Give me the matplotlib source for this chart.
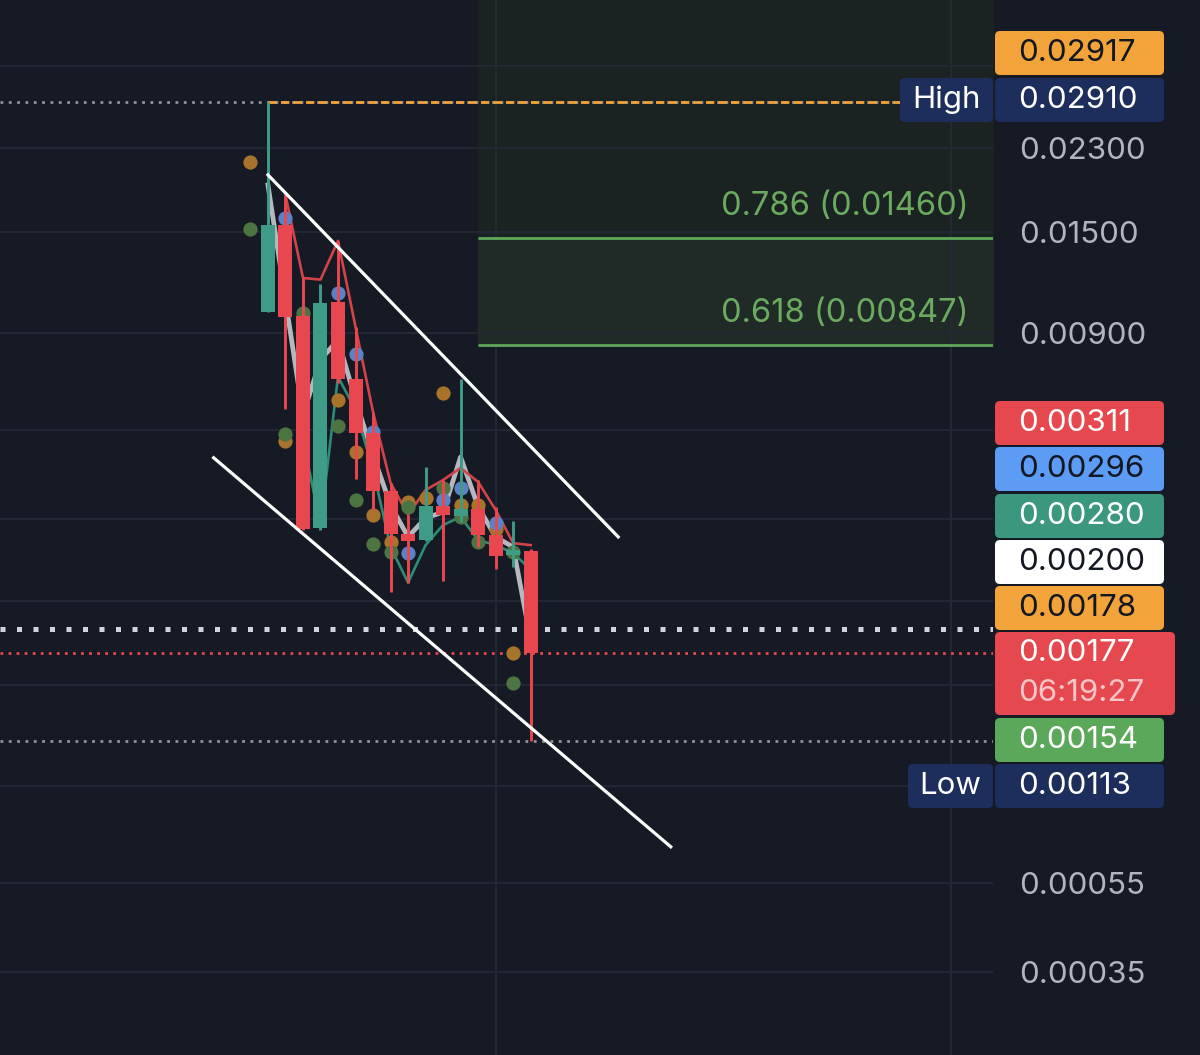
import numpy as np
import matplotlib.pyplot as plt
from matplotlib.patches import FancyBboxPatch
from matplotlib.ticker import NullLocator
import matplotlib.transforms as mtransforms

plt.rcParams['font.family'] = ['Inter', 'DejaVu Sans']

# candles, oldest first
opens  = [0.01002, 0.01559, 0.00981, 0.00334, 0.01054, 0.00713, 0.00541, 0.00403,
          0.00324, 0.00314, 0.00374, 0.00355, 0.00368, 0.00322, 0.00291, 0.00297]
highs  = [0.02910, 0.01815, 0.01190, 0.01155, 0.01437, 0.00928, 0.00602, 0.00420,
          0.00357, 0.00455, 0.00426, 0.00713, 0.00426, 0.00372, 0.00346, 0.00300]
lows   = [0.01000, 0.00612, 0.00331, 0.00331, 0.00698, 0.00428, 0.00366, 0.00241,
          0.00253, 0.00313, 0.00255, 0.00344, 0.00303, 0.00271, 0.00274, 0.00113]
closes = [0.01559, 0.00977, 0.00332, 0.01049, 0.00713, 0.00541, 0.00403, 0.00324,
          0.00313, 0.00374, 0.00357, 0.00368, 0.00322, 0.00290, 0.00299, 0.00177]

# indicator lines
nan = np.nan
ma_gray = [0.01910, 0.01065, 0.00593, 0.00785, 0.00869, 0.00640, 0.00484, 0.00375,
           0.00319, 0.00351, 0.00362, 0.00479, 0.00372, 0.00319, 0.00303, 0.00189]
ma_red  = [nan, 0.01815, 0.01190, 0.01180, 0.01437, 0.00928, 0.00602, 0.00420,
           0.00357, 0.00405, 0.00426, 0.00453, 0.00422, 0.00366, 0.00309, 0.00306]
ma_teal = [nan, nan, 0.00522, 0.00339, 0.00720, 0.00609, 0.00449, 0.00303,
           0.00253, 0.00306, 0.00339, 0.00353, 0.00314, 0.00306, 0.00294, 0.00270]

# indicator dots (bar index, price)
orange_x = [-1, 1, 4, 5, 6, 7, 8, 9, 10, 11, 12, 13, 14]
orange_y = [0.02147, 0.00520, 0.00640, 0.00490, 0.00357, 0.00311, 0.00381, 0.00389,
            0.00663, 0.00375, 0.00375, 0.00332, 0.00177]
green_x = [-1, 1, 2, 4, 5, 6, 7, 8, 10, 11, 12, 14, 14]
green_y = [0.01527, 0.00538, 0.00996, 0.00561, 0.00385, 0.00308, 0.00296, 0.00372,
           0.00409, 0.00353, 0.00311, 0.00296, 0.00152]
blue_x = [1, 4, 5, 6, 8, 10, 11, 13]
blue_y = [0.01615, 0.01103, 0.00809, 0.00545, 0.00294, 0.00385, 0.00409, 0.00343]

# levels
high_price = 0.02910
low_price = 0.00113
last_price = 0.00177
level_white = 0.00200
fib_786 = 0.01460
fib_618 = 0.00847
fib_start = 12

# channel
chan_top_x = [0, 20]
chan_top_y = [0.02010, 0.00319]
chan_bot_x = [-3.1, 23]
chan_bot_y = [0.00477, 0.00066]

# axis ticks
tick_vals = [0.035, 0.023, 0.015, 0.009, 0.0055, 0.0035, 0.0023, 0.0015, 0.0009, 0.00055, 0.00035]
tick_labels = ['', '0.02300', '0.01500', '0.00900', '', '', '', '', '', '0.00055', '0.00035']

# price tags on the axis
tag_text = ['0.02917', '0.02910', '0.00311', '0.00296', '0.00280', '0.00200',
            '0.00178', '0.00177', '0.00154', '0.00113']
tag_face = ['#f2a33a', '#1e2e5c', '#e5484e', '#5c9cf5', '#3c977f', '#ffffff',
            '#f2a33a', '#e5484e', '#5ba85b', '#1e2e5c']
tag_fg = ['#131722', 'white', 'white', '#131722', 'white', '#131722',
          '#131722', 'white', 'white', 'white']
tag_y = [53, 100, 423, 469, 516, 562, 608, 653, 740, 786]
countdown = '06:19:27'

BG = '#161a25'
GRID = '#252935'
UP = '#3e9c86'
DOWN = '#e9474f'
W, H = 1200, 1055
FS = 22.5

fig = plt.figure(figsize=(W / 100, H / 100), dpi=100, facecolor=BG)
ax = fig.add_axes([0, 0, 993 / W, 1])
ax.set_facecolor(BG)
ax.set_yscale('log')
ax.set_xlim(-15.3, 41.4)
ax.set_ylim(0.000229, 0.0489)
ylo, yhi = ax.get_ylim()
xlo, xhi = ax.get_xlim()

for s in ax.spines.values():
    s.set_visible(False)
ax.set_axisbelow(True)
ax.set_yticks(tick_vals)
ax.set_yticklabels(tick_labels)
ax.yaxis.set_minor_locator(NullLocator())
ax.set_xticks([13, 39])
ax.set_xticklabels([])
ax.grid(True, color=GRID, lw=1.3)
ax.tick_params(axis='y', length=0, labelleft=False, labelright=True, pad=19,
               labelsize=FS, labelcolor='#b2b5be')
ax.tick_params(axis='x', length=0)

# fib zone
ax.fill_between([fib_start, xhi], fib_786, yhi, color='#1b2322', zorder=0.2)
ax.fill_between([fib_start, xhi], fib_618, fib_786, color='#202b27', zorder=0.2)
ax.hlines([fib_786, fib_618], fib_start, xhi, color='#5ea85b', lw=2, zorder=1)
blend = mtransforms.blended_transform_factory(ax.transAxes, ax.transData)
for lvl, txt in [(fib_786, '0.786 (0.01460)'), (fib_618, '0.618 (0.00847)')]:
    ax.annotate(txt, xy=(0.975, lvl), xycoords=blend, xytext=(0, 22.5),
                textcoords='offset points', ha='right', va='center',
                color='#6cab5f', fontsize=23.5)

# horizontal levels
ax.axhline(high_price, color='#8f939c', lw=2, ls=(0, (1, 2)), zorder=1)
ax.hlines(high_price, 0, xhi, color='#f2a33a', lw=2, linestyles=(0, (3, 1.5)), zorder=1.1)
ax.axhline(level_white, color='#d1d4dc', lw=3.6, ls=(0, (1, 2.3)), zorder=1)
ax.axhline(last_price, color=DOWN, lw=2, ls=(0, (1, 1.9)), zorder=1)
ax.axhline(low_price, color='#8f939c', lw=2, ls=(0, (1, 2)), zorder=1)

# indicators
x = np.arange(len(opens))
ax.plot(x, ma_gray, color='#c7cad1', lw=3.4, alpha=0.9, zorder=2)
ax.plot(x, ma_red, color='#d2434a', lw=1.9, zorder=2)
ax.plot(x, ma_teal, color='#2e8b74', lw=1.9, zorder=2)
ax.scatter(orange_x, orange_y, s=105, color='#a8742c', lw=0, zorder=3)
ax.scatter(green_x, green_y, s=105, color='#4d7543', lw=0, zorder=3)
ax.scatter(blue_x, blue_y, s=105, color='#5a82c4', lw=0, zorder=3)

# candles
o, h, l, c = map(np.array, (opens, highs, lows, closes))
col = np.where(c >= o, UP, DOWN)
ax.vlines(x, l, h, colors=col, lw=2.1, zorder=4)
ax.bar(x, np.abs(c - o), bottom=np.minimum(o, c), width=0.8, color=col, zorder=5)

# channel
ax.plot(chan_top_x, chan_top_y, color='white', lw=2.3, zorder=6)
ax.plot(chan_bot_x, chan_bot_y, color='white', lw=2.3, zorder=6)

# axis tags
ov = fig.add_axes([0, 0, 1, 1], zorder=10)
ov.set_xlim(0, W)
ov.set_ylim(H, 0)
ov.axis('off')
for txt, fc, fg, yc in zip(tag_text, tag_face, tag_fg, tag_y):
    if txt == '0.00177':
        ov.add_patch(FancyBboxPatch((995, 632), 180, 83, boxstyle='round,pad=0,rounding_size=5',
                                    fc=fc, ec='none'))
        ov.text(1018, 693, countdown, color='#f6c5c7', fontsize=FS, va='center', ha='left')
    else:
        ov.add_patch(FancyBboxPatch((995, yc - 22), 169, 44, boxstyle='round,pad=0,rounding_size=5',
                                    fc=fc, ec='none'))
    ov.text(1018, yc, txt, color=fg, fontsize=FS, va='center', ha='left')
for txt, x0, yc in [('High', 900, 100), ('Low', 908, 786)]:
    ov.add_patch(FancyBboxPatch((x0, yc - 22), 993 - x0, 44, boxstyle='round,pad=0,rounding_size=5',
                                fc='#1e2e5c', ec='none'))
    ov.text((x0 + 993) / 2, yc, txt, color='white', fontsize=FS, va='center', ha='center')

fig.savefig('out.png', dpi=100, facecolor=BG)
